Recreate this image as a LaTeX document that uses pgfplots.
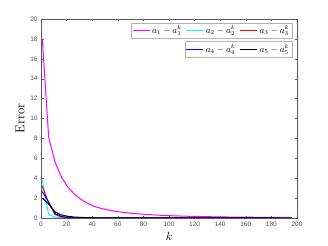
\documentclass[border=0pt]{standalone}
\usepackage{fontspec}
\setsansfont{Liberation Sans}
\usepackage{pgfplots}
\pgfplotsset{compat=1.18}
\definecolor{cMag}{rgb}{1,0,1}
\definecolor{cCyan}{rgb}{0,1,1}
\definecolor{cRed}{rgb}{1,0,0}
\definecolor{cBlue}{rgb}{0,0,1}
\begin{document}
\begin{tikzpicture}
\useasboundingbox (-41bp,-28bp) rectangle (287bp,218bp);
\begin{axis}[
  at={(0,0)}, anchor=south west,
  scale only axis, width=256bp, height=199bp,
  xmin=0, xmax=200, ymin=0, ymax=20,
  xtick={0,20,...,200}, ytick={0,2,...,20},
  tick align=inside, tick pos=both,
  major tick length=2.5bp,
  axis line style={gray!70!black, line width=0.4pt},
  every tick/.style={gray!70!black, line width=0.4pt},
  /pgf/number format/assume math mode=true,
  tick label style={font=\sffamily\fontsize{6.5}{7}\selectfont, text=gray!60!black},
  xlabel={$k$}, ylabel={Error},
  xlabel style={font=\fontsize{13}{14}\selectfont, yshift=1bp},
  ylabel style={font=\fontsize{13}{14}\selectfont, yshift=-1bp},
  legend style={at={(axis cs:200,20)}, anchor=north east, xshift=-4.5bp, yshift=-3.5bp,
    font=\fontsize{9}{10}\selectfont, draw=gray!60, inner sep=1pt,
    /tikz/every even column/.append style={column sep=2bp}},
  legend columns=3,
  legend image post style={line width=1pt},
  every axis plot/.append style={line width=1pt},
]
\addplot[cMag] coordinates {(1,18) (6,8.1) (11,5.6) (16,4.1) (21,3.1) (26,2.4) (31,1.9) (36,1.5) (41,1.2) (46,1.0) (51,0.85) (56,0.72) (61,0.62) (66,0.54) (71,0.47) (76,0.42) (81,0.37) (86,0.33) (91,0.29) (96,0.26) (101,0.23) (106,0.21) (111,0.19) (116,0.17) (121,0.155) (126,0.14) (131,0.13) (136,0.12) (141,0.11) (146,0.1) (151,0.095) (156,0.088) (161,0.082) (166,0.076) (171,0.07) (176,0.066) (181,0.062) (186,0.058) (191,0.054) (196,0.05)};
\addlegendentry{$a_1-a_1^k$}
\addplot[cCyan] coordinates {(1,3.85) (6,0.35) (11,0.08) (16,0.02) (21,0.005) (26,0.001) (196,0)};
\addlegendentry{$a_2-a_2^k$}
\addplot[cRed] coordinates {(1,3.2) (6,1.5) (11,0.35) (16,0.1) (21,0.04) (26,0.015) (31,0.005) (36,0.001) (196,0)};
\addlegendentry{$a_3-a_3^k$}
\addplot[cBlue, forget plot] coordinates {(1,2.65) (6,1.6) (11,0.45) (16,0.15) (21,0.06) (26,0.025) (31,0.01) (36,0.003) (196,0)};
\addplot[black, forget plot] coordinates {(1,2.0) (6,1.4) (11,0.6) (16,0.3) (21,0.17) (26,0.1) (31,0.06) (36,0.04) (41,0.025) (46,0.015) (51,0.01) (56,0.005) (61,0.002) (196,0)};
\end{axis}
\begin{axis}[
  at={(0,0)}, anchor=south west,
  scale only axis, width=256bp, height=199bp,
  xmin=0, xmax=200, ymin=0, ymax=20,
  hide axis,
  legend style={at={(axis cs:200,20)}, anchor=north east, xshift=-4.5bp, yshift=-22.5bp,
    font=\fontsize{9}{10}\selectfont, draw=gray!60, inner sep=1pt,
    /tikz/every even column/.append style={column sep=2bp}},
  legend columns=2,
  legend image post style={line width=1pt},
]
\addlegendimage{cBlue}
\addlegendentry{$a_4-a_4^k$}
\addlegendimage{black}
\addlegendentry{$a_5-a_5^k$}
\end{axis}
\end{tikzpicture}
\end{document}
